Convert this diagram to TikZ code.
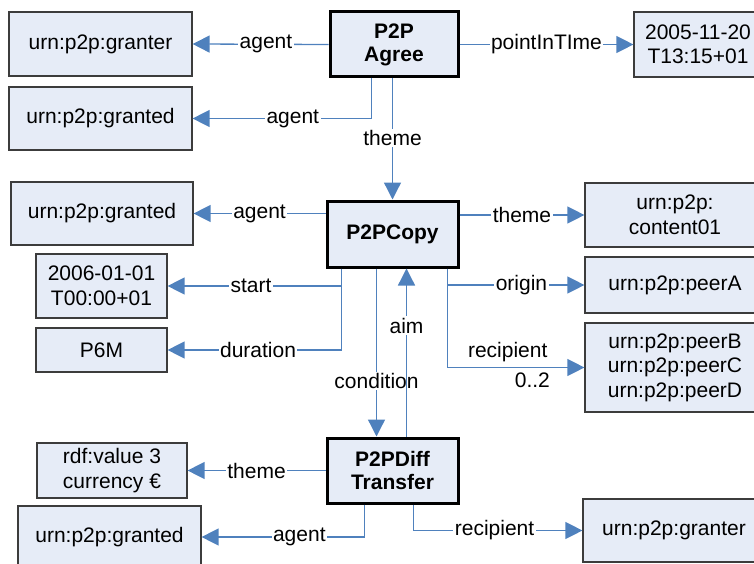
\documentclass[tikz,border=0pt]{standalone}
\usepackage{fontspec}
\setmainfont{Liberation Sans}
\usetikzlibrary{arrows.meta,calc}
\definecolor{boxfill}{RGB}{230,236,247}
\definecolor{conn}{RGB}{79,129,189}
\definecolor{edge}{RGB}{60,60,60}
\tikzset{
 valbox/.style={draw=edge, line width=1.2pt, fill=boxfill, inner sep=0pt, align=center, font=\fontsize{21}{24.5}\selectfont},
 evbox/.style={draw=black, line width=3pt, fill=boxfill, inner sep=0pt, align=center, font=\fontsize{21}{23}\selectfont\bfseries},
 rel/.style={draw=conn, line width=1.3pt, -{Triangle[length=17pt,width=17pt,fill=conn]}},
 lbl/.style={fill=white, inner sep=1.5pt, font=\fontsize{21}{24}\selectfont, text=black},
 lblplain/.style={inner sep=2pt, font=\fontsize{21}{24}\selectfont, text=black},
}
\begin{document}
\begin{tikzpicture}[x=1pt,y=-1pt]
\useasboundingbox (0,0) rectangle (754,564);
\clip (0,0) rectangle (754,564);
% value boxes
\node[valbox, minimum width=183pt, minimum height=64pt] (granterA) at (100.5,44) {urn:p2p:granter};
\node[valbox, minimum width=183pt, minimum height=63pt] (grantedA) at (100.5,118.5) {urn:p2p:granted};
\node[valbox, minimum width=128pt, minimum height=65pt] (time) at (698,44.5) {2005-11-20\\T13:15+01};
\node[valbox, minimum width=182pt, minimum height=63pt] (grantedB) at (102,213.5) {urn:p2p:granted};
\node[valbox, minimum width=131pt, minimum height=64pt] (start) at (101.5,286) {2006-01-01\\T00:00+01};
\node[valbox, minimum width=131pt, minimum height=44pt] (dur) at (101.5,350) {P6M};
\node[valbox, minimum width=180pt, minimum height=64pt] (content) at (675,215) {urn:p2p:\\content01};
\node[valbox, minimum width=180pt, minimum height=56pt] (peerA) at (675,285) {urn:p2p:peerA};
\node[valbox, minimum width=180pt, minimum height=89pt] (peers) at (675,367.5) {urn:p2p:peerB\\urn:p2p:peerC\\urn:p2p:peerD};
\node[valbox, minimum width=150pt, minimum height=55pt] (money) at (112,470.5) {rdf:value 3\\currency €};
\node[valbox, minimum width=183pt, minimum height=62pt] (grantedC) at (109.5,537) {urn:p2p:granted};
\node[valbox, minimum width=182pt, minimum height=63pt] (granterB) at (674,530.5) {urn:p2p:granter};
% event boxes
\node[evbox, minimum width=128pt, minimum height=65pt] (agree) at (394,44.5) {P2P\\Agree};
\node[evbox, minimum width=131pt, minimum height=66pt] (copy) at (392.5,234) {P2PCopy};
\node[evbox, minimum width=131pt, minimum height=65pt] (diff) at (392.5,470.5) {P2PDiff\\Transfer};
% connectors from P2P Agree
\draw[rel] (agree.west) -- node[lbl, pos=0.46] {agent} (granterA.east);
\draw[rel] ([xshift=43pt]agree.south west) |- node[lbl, pos=0.72] {agent} (grantedA.east);
\draw[rel] (agree.south -| copy.north) -- node[lbl, pos=0.49] {theme} (copy.north);
\draw[rel] (agree.east) -- node[lbl, pos=0.5] {pointInTIme} (time.west);
% connectors from P2PCopy
\draw[rel] (copy.west |- grantedB.east) -- node[lbl, pos=0.5] {agent} (grantedB.east);
\draw[rel] ([xshift=16pt]copy.south west) |- node[lbl, pos=0.76] {start} (start.east);
\draw[rel] ([xshift=16pt]copy.south west) |- node[lbl, pos=0.74] {duration} (dur.east);
\draw[rel] ([xshift=51pt]copy.south west) -- node[lbl, pos=0.67] {condition} ([xshift=51pt]diff.north west);
\draw[rel] ([xshift=81pt]diff.north west) -- node[lbl, pos=0.66] {aim} ([xshift=81pt]copy.south west);
\draw[rel] (copy.east |- content.west) -- node[lbl, pos=0.5] {theme} (content.west);
\draw[rel] ([xshift=-12pt]copy.south east) |- node[lbl, pos=0.77] {origin} (peerA.west);
\draw[rel] ([xshift=-12pt]copy.south east) |- node[lblplain, above, yshift=3pt, pos=0.72] {recipient} node[lblplain, below, yshift=-3pt, pos=0.81] {0..2} (peers.west);
% connectors from P2PDiff Transfer
\draw[rel] (diff.west) -- node[lbl, pos=0.5] {theme} (money.east);
\draw[rel] ([xshift=39pt]diff.south west) |- node[lbl, pos=0.7] {agent} (grantedC.east);
\draw[rel] ([xshift=88pt]diff.south west) |- node[lbl, pos=0.74] {recipient} (granterB.west);
\end{tikzpicture}
\end{document}
